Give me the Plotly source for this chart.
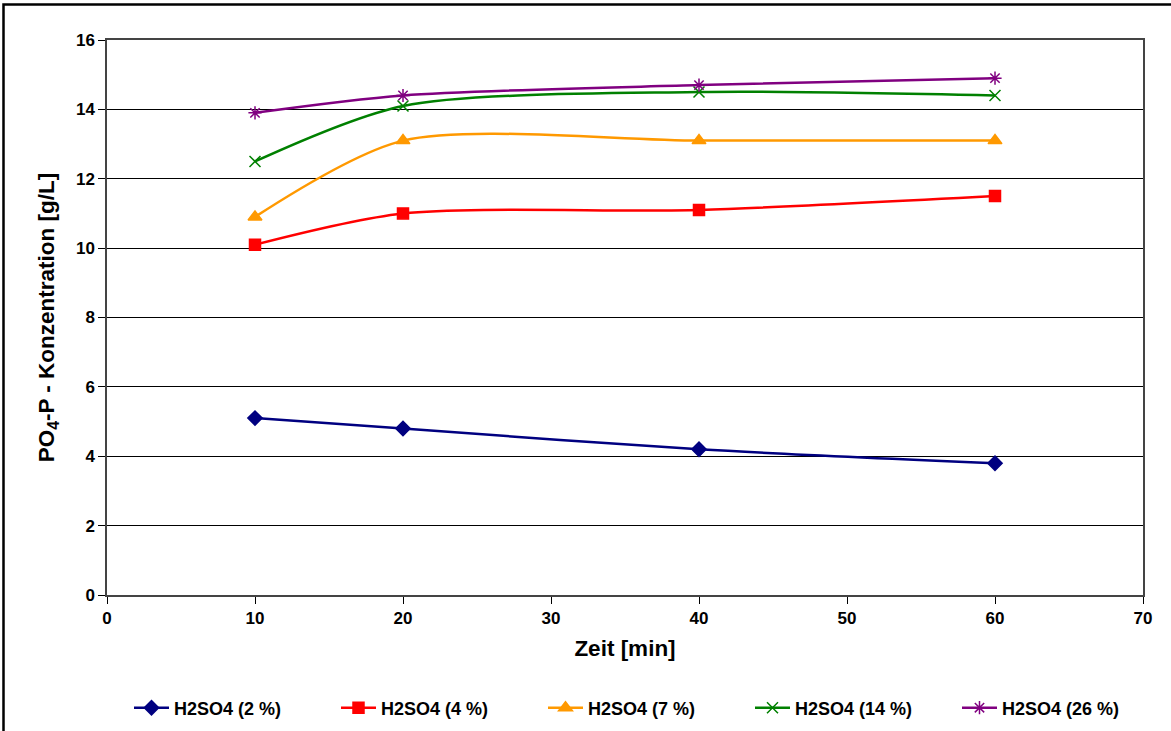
import plotly.graph_objects as go

zeit = [10, 20, 40, 60]
s2 = [5.1, 4.8, 4.2, 3.8]
s4 = [10.1, 11.0, 11.1, 11.5]
s7 = [10.9, 13.1, 13.1, 13.1]
s14 = [12.5, 14.1, 14.5, 14.4]
s26 = [13.9, 14.4, 14.7, 14.9]
names = ["H2SO4 (2 %)", "H2SO4 (4 %)", "H2SO4 (7 %)", "H2SO4 (14 %)", "H2SO4 (26 %)"]
colors = ["#000080", "#FF0000", "#FF9900", "#008000", "#800080"]
symbols = ["diamond", "square", "triangle-up", "x-thin-open", "asterisk-open"]
sizes = [11, 11, 12, 11, 11]
series = [s2, s4, s7, s14, s26]

W, H = 1171, 731
ml, mr, mt, mb = 107, 28, 40, 136
pw, ph = W - ml - mr, H - mt - mb

fig = go.Figure()
for nm, c, sym, sz, ys in zip(names, colors, symbols, sizes, series):
    fig.add_trace(go.Scatter(
        x=zeit, y=ys, name=nm, mode="lines+markers",
        line=dict(color=c, width=2.5, shape="spline", smoothing=0.8),
        marker=dict(symbol=sym, size=sz, color=c, line=dict(color=c, width=1.5)),
    ))

font = "Liberation Sans, Arial, sans-serif"
fig.update_layout(
    width=W, height=H,
    margin=dict(l=ml, r=mr, t=mt, b=mb, autoexpand=False),
    paper_bgcolor="white", plot_bgcolor="white",
    font=dict(family=font, color="black"),
    showlegend=True,
    legend=dict(orientation="h", x=(129 - ml) / pw, xanchor="left", y=-(708 - 595) / ph, yanchor="middle",
                bgcolor="rgba(0,0,0,0)",
                font=dict(size=18, family=font, weight="bold"),
                entrywidth=157, entrywidthmode="pixels", itemwidth=35),
    xaxis=dict(range=[0, 70], dtick=10, tick0=0, showgrid=False, zeroline=False,
               showline=True, linecolor="#444", linewidth=1.5, mirror=True,
               ticks="outside", ticklen=7, tickcolor="black",
               tickfont=dict(size=17, family=font, weight="bold"),
               title=dict(text="Zeit [min]", font=dict(size=22.5, family=font, weight="bold"), standoff=13)),
    yaxis=dict(range=[0, 16], dtick=2, tick0=0, showgrid=True, gridcolor="black", gridwidth=1,
               zeroline=False, showline=True, linecolor="#444", linewidth=1.5, mirror=True,
               ticks="outside", ticklen=7, tickcolor="black",
               tickfont=dict(size=17, family=font, weight="bold"),
               title=dict(text="PO<sub>4</sub>-P - Konzentration [g/L]",
                          font=dict(size=22.5, family=font, weight="bold"), standoff=15)),
    shapes=[dict(type="rect", xref="paper", yref="paper", layer="above",
                 x0=-(ml - 3.5) / pw, x1=1 + (mr + 20) / pw,
                 y0=-(mb + 20) / ph, y1=1 + (mt - 4.5) / ph,
                 line=dict(color="black", width=2.5))],
)

fig.write_html("out.html")
